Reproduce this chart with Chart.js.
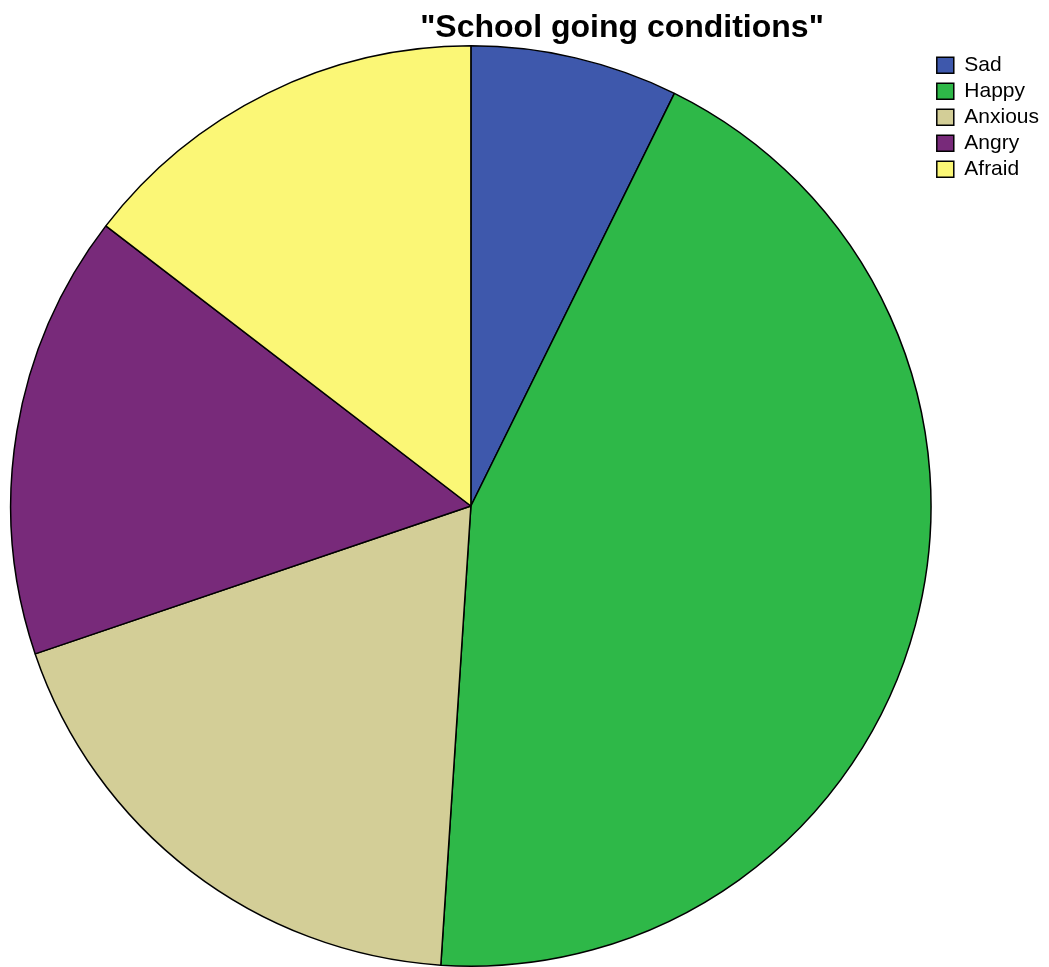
<html>
<head>
    <title>School going conditions</title>
    <style>
        body { margin: 0; background: #fff; }
        #wrap { width: 1049px; height: 967px; }
    </style>
</head>
<body>
<div id="wrap"><canvas id="pie-chart"></canvas></div>
<script src="https://cdn.jsdelivr.net/npm/chart.js@4/dist/chart.umd.min.js"></script>
<script>
    var chartTitle = '"School going conditions"';
    var labels = ["Sad", "Happy", "Anxious", "Angry", "Afraid"];
    var counts = [7, 42, 18, 15, 14];
    var colors = ["#3E58AC", "#2EB848", "#D3CE97", "#782A7A", "#FBF776"];

    // title sits off-centre in the original, so draw it by hand
    var titlePlugin = {
        id: 'offTitle',
        afterDraw: function (chart) {
            var c = chart.ctx;
            c.save();
            c.font = 'bold 32px "Liberation Sans", Arial, sans-serif';
            c.fillStyle = '#000';
            c.textAlign = 'center';
            c.textBaseline = 'alphabetic';
            c.fillText(chartTitle, 622, 37);
            c.restore();
        }
    };

    var ctx = document.getElementById('pie-chart').getContext('2d');
    new Chart(ctx, {
        type: 'pie',
        data: {
            labels: labels,
            datasets: [{
                data: counts,
                backgroundColor: colors,
                borderColor: "#000",
                borderWidth: 1.5
            }]
        },
        options: {
            responsive: true,
            maintainAspectRatio: false,
            animation: false,
            layout: {padding: {top: 45, left: 10, right: 0, bottom: 0}},
            plugins: {
                title: {display: false},
                tooltip: {enabled: false},
                legend: {
                    position: 'right',
                    align: 'start',
                    // blank legend title just nudges the items down a bit
                    title: {display: true, text: ' ', padding: 0, font: {size: 4}},
                    labels: {
                        boxWidth: 17,
                        boxHeight: 16,
                        padding: 5,
                        color: '#000',
                        font: {family: '"Liberation Sans", Arial, sans-serif', size: 21}
                    }
                }
            }
        },
        plugins: [titlePlugin]
    });
</script>
</body>
</html>
